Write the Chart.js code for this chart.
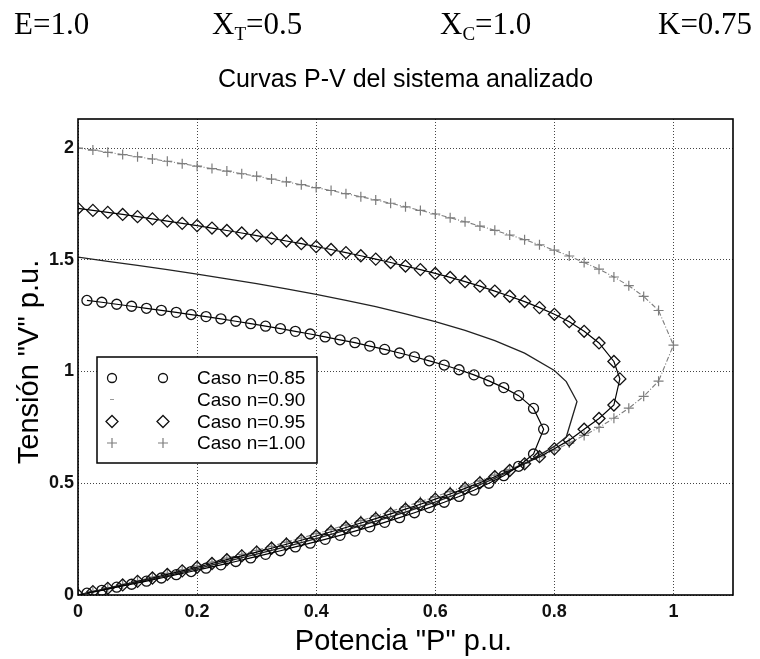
<!DOCTYPE html>
<html>
<head>
<meta charset="utf-8">
<script src="https://cdn.jsdelivr.net/npm/chart.js@4.4.1/dist/chart.umd.min.js"></script>
<style>
  html, body { margin: 0; padding: 0; background: #fff; }
  canvas { display: block; }
</style>
</head>
<body>
<canvas id="pv" width="760" height="659"></canvas>
<script>
// tick values
const xTicks = [0, 0.2, 0.4, 0.6, 0.8, 1];
const yTicks = [0, 0.5, 1, 1.5, 2];

// n = 0.85 (circles): upper branch, lower branch at the same P, nose point
const pN085 = [0.015, 0.04, 0.065, 0.09, 0.115, 0.14, 0.165, 0.19, 0.215, 0.24, 0.265, 0.29, 0.315, 0.34, 0.365, 0.39,
  0.415, 0.44, 0.465, 0.49, 0.515, 0.54, 0.565, 0.59, 0.615, 0.64, 0.665, 0.69, 0.715, 0.74, 0.765];
const vUpN085 = [1.318, 1.310, 1.301, 1.292, 1.283, 1.274, 1.265, 1.255, 1.246, 1.236, 1.225, 1.214, 1.203, 1.192, 1.180, 1.168,
  1.155, 1.142, 1.129, 1.114, 1.099, 1.083, 1.066, 1.048, 1.029, 1.008, 0.985, 0.958, 0.928, 0.892, 0.835];
const vLoN085 = [0.008, 0.021, 0.035, 0.048, 0.062, 0.076, 0.091, 0.105, 0.120, 0.135, 0.150, 0.166, 0.182, 0.198, 0.215, 0.232,
  0.249, 0.267, 0.286, 0.305, 0.325, 0.346, 0.368, 0.391, 0.415, 0.441, 0.469, 0.500, 0.534, 0.576, 0.631];
const noseN085 = [0.782, 0.742];

// n = 0.90 (plain line)
const pN090 = [0, 0.05, 0.1, 0.15, 0.2, 0.25, 0.3, 0.35, 0.4, 0.45, 0.5, 0.55, 0.6, 0.65, 0.7, 0.75, 0.8, 0.82];
const vUpN090 = [1.512, 1.493, 1.475, 1.456, 1.436, 1.415, 1.393, 1.370, 1.345, 1.318, 1.290, 1.258, 1.223, 1.184, 1.138, 1.082, 1.005, 0.955];
const vLoN090 = [0, 0.028, 0.058, 0.087, 0.118, 0.150, 0.183, 0.217, 0.252, 0.290, 0.329, 0.371, 0.416, 0.466, 0.522, 0.588, 0.665, 0.707];
const noseN090 = [0.838, 0.866];

// n = 0.95 (diamonds)
const pN095 = [0, 0.025, 0.05, 0.075, 0.1, 0.125, 0.15, 0.175, 0.2, 0.225, 0.25, 0.275, 0.3, 0.325, 0.35, 0.375, 0.4, 0.425, 0.45,
  0.475, 0.5, 0.525, 0.55, 0.575, 0.6, 0.625, 0.65, 0.675, 0.7, 0.725, 0.75, 0.775, 0.8, 0.825, 0.85, 0.875, 0.9];
const vUpN095 = [1.730, 1.721, 1.712, 1.703, 1.693, 1.683, 1.673, 1.663, 1.653, 1.642, 1.631, 1.620, 1.608, 1.596, 1.584, 1.572, 1.559, 1.546, 1.532,
  1.518, 1.503, 1.488, 1.472, 1.456, 1.439, 1.421, 1.402, 1.382, 1.360, 1.337, 1.313, 1.286, 1.256, 1.223, 1.180, 1.128, 1.045];
const vLoN095 = [0, 0.015, 0.030, 0.045, 0.061, 0.076, 0.092, 0.108, 0.124, 0.141, 0.158, 0.175, 0.192, 0.209, 0.227, 0.245, 0.264, 0.283, 0.302,
  0.322, 0.342, 0.363, 0.384, 0.406, 0.429, 0.452, 0.477, 0.502, 0.529, 0.557, 0.587, 0.619, 0.654, 0.693, 0.742, 0.790, 0.850];
const noseN095 = [0.910, 0.967];

// n = 1.00 (crosses)
const pN100 = [0, 0.025, 0.05, 0.075, 0.1, 0.125, 0.15, 0.175, 0.2, 0.225, 0.25, 0.275, 0.3, 0.325, 0.35, 0.375, 0.4, 0.425, 0.45, 0.475,
  0.5, 0.525, 0.55, 0.575, 0.6, 0.625, 0.65, 0.675, 0.7, 0.725, 0.75, 0.775, 0.8, 0.825, 0.85, 0.875, 0.9, 0.925, 0.95, 0.975];
const vUpN100 = [2.000, 1.991, 1.981, 1.971, 1.961, 1.951, 1.941, 1.930, 1.919, 1.908, 1.897, 1.885, 1.874, 1.861, 1.849, 1.836, 1.823, 1.810, 1.796, 1.782,
  1.768, 1.753, 1.737, 1.721, 1.705, 1.688, 1.670, 1.651, 1.632, 1.611, 1.590, 1.567, 1.543, 1.517, 1.488, 1.458, 1.423, 1.384, 1.336, 1.273];
const vLoN100 = [0, 0.016, 0.032, 0.048, 0.064, 0.080, 0.097, 0.113, 0.130, 0.147, 0.165, 0.182, 0.200, 0.218, 0.237, 0.255, 0.274, 0.294, 0.313, 0.333,
  0.354, 0.374, 0.396, 0.418, 0.440, 0.463, 0.487, 0.511, 0.536, 0.562, 0.590, 0.618, 0.648, 0.680, 0.714, 0.750, 0.791, 0.836, 0.889, 0.957];
const noseN100 = [1.0, 1.118];

const legendLabels = ['Caso n=0.85', 'Caso n=0.90', 'Caso n=0.95', 'Caso n=1.00'];

// upper branch out to the nose, then back along the lower branch
function curve(p, vUp, vLo, nose) {
  const pts = p.map((x, i) => ({ x: x, y: vUp[i] }));
  pts.push({ x: nose[0], y: nose[1] });
  for (let i = p.length - 1; i >= 0; i--) pts.push({ x: p[i], y: vLo[i] });
  return pts;
}

const GREY = '#7d7d7d';

const datasets = [
  { data: curve(pN085, vUpN085, vLoN085, noseN085), borderColor: '#000', borderWidth: 1.2,
    pointStyle: 'circle', pointRadius: 5, pointBorderColor: '#111', pointBorderWidth: 1.3, pointBackgroundColor: 'rgba(0,0,0,0)' },
  { data: curve(pN090, vUpN090, vLoN090, noseN090), borderColor: '#222', borderWidth: 1.3, pointRadius: 0 },
  { data: curve(pN095, vUpN095, vLoN095, noseN095), borderColor: '#000', borderWidth: 1.2,
    pointStyle: 'rectRot', pointRadius: 6, pointBorderColor: '#111', pointBorderWidth: 1.3, pointBackgroundColor: 'rgba(0,0,0,0)' },
  { data: curve(pN100, vUpN100, vLoN100, noseN100), borderColor: GREY, borderWidth: 1.1, borderDash: [5, 2, 1, 2],
    pointStyle: 'cross', pointRadius: 5, pointBorderColor: GREY, pointBorderWidth: 1.2 }
];
datasets.forEach(d => { d.showLine = true; d.fill = false; d.tension = 0; });

// header line, title, axis names, frame and legend
const decor = {
  id: 'decor',
  afterDraw(chart) {
    const ctx = chart.ctx;
    const a = chart.chartArea;
    ctx.save();
    ctx.fillStyle = '#000';
    ctx.textBaseline = 'alphabetic';

    // parameters row (serif)
    const serif = '"Liberation Serif", "Times New Roman", serif';
    const big = '31px ' + serif, sub = '19px ' + serif;
    function param(x, main, subs, rest) {
      ctx.font = big; ctx.textAlign = 'left';
      ctx.fillText(main, x, 34);
      let w = ctx.measureText(main).width;
      if (subs) {
        ctx.font = sub;
        ctx.fillText(subs, x + w, 40);
        w += ctx.measureText(subs).width;
        ctx.font = big;
      }
      ctx.fillText(rest, x + w, 34);
    }
    param(14, 'E', '', '=1.0');
    param(212, 'X', 'T', '=0.5');
    param(440, 'X', 'C', '=1.0');
    param(658, 'K', '', '=0.75');

    const sans = '"Liberation Sans", Arial, Helvetica, sans-serif';
    ctx.textAlign = 'center';
    ctx.font = '25px ' + sans;
    ctx.fillText('Curvas P-V del sistema analizado', (a.left + a.right) / 2, 87);
    ctx.font = '29px ' + sans;
    ctx.fillText('Potencia "P" p.u.', (a.left + a.right) / 2 - 2, 650);
    ctx.save();
    ctx.translate(38, (a.top + a.bottom) / 2 + 5);
    ctx.rotate(-Math.PI / 2);
    ctx.fillText('Tensión "V" p.u.', 0, 0);
    ctx.restore();

    // axes box
    ctx.strokeStyle = '#000';
    ctx.lineWidth = 1.6;
    ctx.strokeRect(a.left, a.top, a.right - a.left, a.bottom - a.top);

    // legend
    const bx = 97, by = 357, bw = 220, bh = 106;
    ctx.fillStyle = '#fff';
    ctx.fillRect(bx, by, bw, bh);
    ctx.lineWidth = 1.5;
    ctx.strokeRect(bx, by, bw, bh);
    const rows = [378, 399.5, 421.5, 443];
    const cols = [112, 163];
    ctx.font = '19px ' + sans;
    ctx.textAlign = 'left';
    ctx.textBaseline = 'middle';
    rows.forEach((y, i) => {
      ctx.fillStyle = '#000';
      ctx.fillText(legendLabels[i], 197, y + 1);
      cols.forEach(x => {
        ctx.beginPath();
        if (i === 0) {
          ctx.strokeStyle = '#111'; ctx.lineWidth = 1.3;
          ctx.arc(x, y, 4.5, 0, Math.PI * 2);
        } else if (i === 1) {
          if (x !== cols[0]) return;
          ctx.strokeStyle = '#999'; ctx.lineWidth = 1;
          ctx.moveTo(x - 2, y); ctx.lineTo(x + 2, y);
        } else if (i === 2) {
          ctx.strokeStyle = '#111'; ctx.lineWidth = 1.3;
          ctx.moveTo(x - 6, y); ctx.lineTo(x, y - 6); ctx.lineTo(x + 6, y); ctx.lineTo(x, y + 6); ctx.closePath();
        } else {
          ctx.strokeStyle = GREY; ctx.lineWidth = 1.2;
          ctx.moveTo(x - 5, y); ctx.lineTo(x + 5, y);
          ctx.moveTo(x, y - 5); ctx.lineTo(x, y + 5);
        }
        ctx.stroke();
      });
    });
    ctx.restore();
  }
};

const tickFont = { family: '"Liberation Sans", Arial, sans-serif', size: 18, weight: 'bold' };
const grid = { color: '#444', lineWidth: 1, drawTicks: false };
const border = { display: false };

new Chart(document.getElementById('pv'), {
  type: 'scatter',
  data: { datasets: datasets },
  options: {
    responsive: false,
    animation: false,
    devicePixelRatio: 1,
    layout: { padding: { left: 0, top: 119, right: 27, bottom: 0 } },
    plugins: { legend: { display: false }, tooltip: { enabled: false }, title: { display: false } },
    scales: {
      x: {
        type: 'linear', min: 0, max: 1.1,
        afterBuildTicks: s => { s.ticks = xTicks.map(v => ({ value: v })); },
        afterFit: s => { s.height = 64; },
        ticks: { autoSkip: false, maxRotation: 0, color: '#111', font: tickFont, padding: 6, callback: v => String(v) },
        grid: Object.assign({}, grid),
        border: Object.assign({ dash: [1, 2] }, border)
      },
      y: {
        type: 'linear', min: 0, max: 2.13,
        afterBuildTicks: s => { s.ticks = yTicks.map(v => ({ value: v })); },
        afterFit: s => { s.width = 78; },
        ticks: { autoSkip: false, color: '#111', font: tickFont, padding: 4, callback: v => String(v) },
        grid: Object.assign({}, grid),
        border: Object.assign({ dash: [1, 2] }, border)
      }
    }
  },
  plugins: [decor]
});
</script>
</body>
</html>
